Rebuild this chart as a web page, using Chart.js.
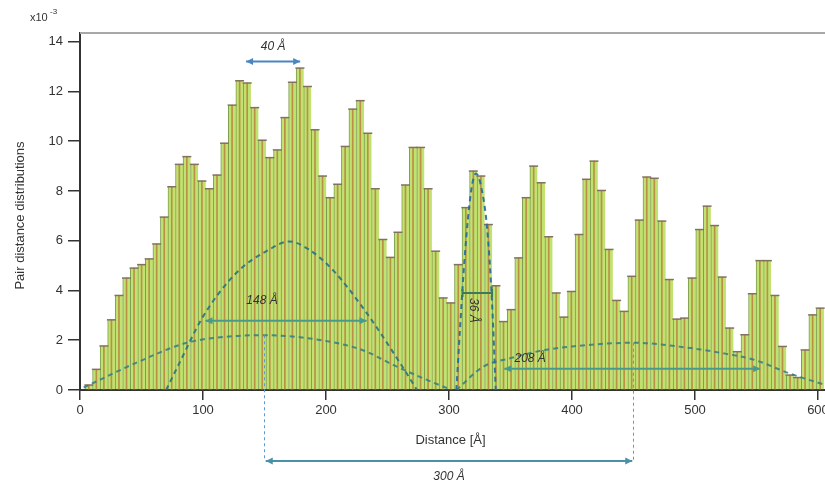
<!DOCTYPE html>
<html>
<head>
<meta charset="utf-8">
<script src="https://cdn.jsdelivr.net/npm/chart.js@4.4.1/dist/chart.umd.min.js"></script>
<style>
    html, body { margin: 0; padding: 0; background: #fff; }
    #wrap { width: 825px; height: 488px; }
</style>
</head>
<body>
<div id="wrap"><canvas id="pddChart" width="825" height="488"></canvas></div>
<script>
// Histograma de distancias (x10^-3), bins de ~6.13 Å
const binStart = 4.1;
const binWidth = 6.13;
const pddValues = [
    0.2, 0.83, 1.77, 2.82, 3.8, 4.5, 4.9, 5.04, 5.27, 5.87,
    6.95, 8.17, 9.07, 9.38, 9.07, 8.4, 8.09, 8.64, 9.92, 11.45,
    12.43, 12.34, 11.35, 10.04, 9.34, 9.65, 10.95, 12.37, 12.94, 12.2,
    10.46, 8.6, 7.73, 8.27, 9.79, 11.29, 11.63, 10.32, 8.09, 6.05,
    5.33, 6.34, 8.24, 9.75, 9.75, 8.09, 5.58, 3.7, 3.5, 5.04,
    7.33, 8.8, 8.6, 6.65, 4.19, 2.75, 3.23, 5.31, 7.73, 9.0,
    8.33, 6.16, 3.9, 2.93, 3.96, 6.25, 8.47, 9.2, 8.02, 5.65,
    3.6, 3.16, 4.57, 6.83, 8.56, 8.51, 6.79, 4.44, 2.85, 2.89,
    4.5, 6.45, 7.39, 6.61, 4.54, 2.49, 1.54, 2.22, 3.87, 5.2,
    5.2, 3.8, 1.75, 0.6, 0.5, 1.61, 3.02, 3.29
];

const xTicks = [0, 100, 200, 300, 400, 500, 600];
const yTicks = [0, 2, 4, 6, 8, 10, 12, 14];

// Curvas de ajuste
const domeX = [70, 81, 100, 127, 154, 170, 186, 206, 233, 260, 274];
const domeY = [0, 1.1, 2.95, 4.7, 5.65, 5.97, 5.65, 4.8, 3.1, 1.1, 0];
const broadLeftX = [3, 46, 87, 127, 150, 190, 230, 255, 280, 302];
const broadLeftY = [0.1, 1.1, 1.9, 2.17, 2.2, 2.05, 1.6, 1.0, 0.45, 0];
const narrowX = [306, 309, 313, 318, 322, 326, 331, 335, 338];
const narrowY = [0, 2.5, 5.5, 8.0, 8.7, 8.2, 6.5, 3.5, 0];
const broadRightX = [306, 328, 350, 377, 400, 450, 494, 520, 549, 576, 606];
const broadRightY = [0, 0.94, 1.28, 1.6, 1.75, 1.9, 1.7, 1.5, 1.2, 0.68, 0.2];

const FONT = "'Liberation Sans', 'DejaVu Sans', sans-serif";

function toPoints(xs, ys) {
    return xs.map((x, i) => ({ x: x, y: ys[i] }));
}

const barPoints = pddValues.map((v, i) => ({ x: binStart + (i + 0.5) * binWidth, y: v }));

function curveDataset(xs, ys, color) {
    return {
        type: 'line',
        data: toPoints(xs, ys),
        borderColor: color,
        borderWidth: 2,
        borderDash: [5, 4],
        pointRadius: 0,
        cubicInterpolationMode: 'monotone',
        fill: false,
        order: 1
    };
}

function drawArrow(ctx, x1, x2, yPix, color, heads) {
    ctx.save();
    ctx.strokeStyle = color;
    ctx.fillStyle = color;
    ctx.lineWidth = 2;
    ctx.setLineDash([]);
    ctx.beginPath();
    ctx.moveTo(x1, yPix);
    ctx.lineTo(x2, yPix);
    ctx.stroke();
    if (heads) {
        [[x1, 1], [x2, -1]].forEach(([hx, dir]) => {
            ctx.beginPath();
            ctx.moveTo(hx, yPix);
            ctx.lineTo(hx + dir * 7, yPix - 3.5);
            ctx.lineTo(hx + dir * 7, yPix + 3.5);
            ctx.closePath();
            ctx.fill();
        });
    }
    ctx.restore();
}

function drawText(ctx, text, x, y, opts) {
    ctx.save();
    ctx.font = (opts.style || '') + ' ' + (opts.size || 13) + 'px ' + FONT;
    ctx.fillStyle = opts.color || '#333';
    ctx.textAlign = opts.align || 'center';
    ctx.textBaseline = 'middle';
    if (opts.rotate) {
        ctx.translate(x, y);
        ctx.rotate(opts.rotate);
        ctx.fillText(text, 0, 0);
    } else {
        ctx.fillText(text, x, y);
    }
    ctx.restore();
}

const annotationPlugin = {
    id: 'pddAnnotations',
    afterDraw(chart) {
        const { ctx, chartArea } = chart;
        const x = chart.scales.x;
        const y = chart.scales.y;
        const bottom = chartArea.bottom;

        // marco superior
        ctx.save();
        ctx.strokeStyle = '#a8a8a8';
        ctx.lineWidth = 2;
        ctx.beginPath();
        ctx.moveTo(chartArea.left, chartArea.top);
        ctx.lineTo(chartArea.right, chartArea.top);
        ctx.stroke();
        ctx.restore();

        // 40 Å
        drawArrow(ctx, x.getPixelForValue(135), x.getPixelForValue(179), y.getPixelForValue(13.2), '#4a86c0', true);
        drawText(ctx, '40 Å', x.getPixelForValue(157), y.getPixelForValue(13.8), { style: 'italic', size: 12 });

        // 148 Å
        drawArrow(ctx, x.getPixelForValue(102), x.getPixelForValue(233), y.getPixelForValue(2.78), '#4a9a8c', true);
        drawText(ctx, '148 Å', x.getPixelForValue(148), y.getPixelForValue(3.6), { style: 'italic', size: 12 });

        // 36 Å
        ctx.save();
        ctx.strokeStyle = '#3c7a5a';
        ctx.lineWidth = 2;
        const y36 = y.getPixelForValue(3.9);
        const a36 = x.getPixelForValue(311), b36 = x.getPixelForValue(335);
        ctx.beginPath();
        ctx.moveTo(a36, y36); ctx.lineTo(b36, y36);
        ctx.moveTo(a36, y36 - 4); ctx.lineTo(a36, y36 + 4);
        ctx.moveTo(b36, y36 - 4); ctx.lineTo(b36, y36 + 4);
        ctx.stroke();
        ctx.restore();
        drawText(ctx, '36 Å', x.getPixelForValue(320), y.getPixelForValue(3.2), { style: 'italic', size: 12, rotate: Math.PI / 2 });

        // 208 Å
        drawArrow(ctx, x.getPixelForValue(345), x.getPixelForValue(553), y.getPixelForValue(0.85), '#4a9a8c', true);
        drawText(ctx, '208 Å', x.getPixelForValue(366), y.getPixelForValue(1.25), { style: 'italic', size: 12 });

        // 300 Å (debajo del eje)
        const y300 = bottom + 71;
        ctx.save();
        ctx.strokeStyle = '#5a9ad0';
        ctx.lineWidth = 1;
        ctx.setLineDash([3, 3]);
        ctx.beginPath();
        ctx.moveTo(x.getPixelForValue(150), y.getPixelForValue(2.2));
        ctx.lineTo(x.getPixelForValue(150), y300);
        ctx.moveTo(x.getPixelForValue(450), y.getPixelForValue(1.9));
        ctx.lineTo(x.getPixelForValue(450), y300);
        ctx.stroke();
        ctx.restore();
        drawArrow(ctx, x.getPixelForValue(151), x.getPixelForValue(449), y300, '#4a90a8', true);
        drawText(ctx, '300 Å', x.getPixelForValue(300), y300 + 16, { style: 'italic', size: 12 });

        // títulos de ejes
        drawText(ctx, 'Distance [Å]', (chartArea.left + chartArea.right) / 2 - 2, bottom + 50, { size: 13 });
        drawText(ctx, 'Pair distance distributions', 20, (chartArea.top + bottom) / 2 + 4, { size: 13, rotate: -Math.PI / 2 });
        drawText(ctx, 'x10', 30, 18, { size: 11, align: 'left' });
        drawText(ctx, '-3', 50, 12, { size: 8, align: 'left' });
    }
};

const chart = new Chart(document.getElementById('pddChart').getContext('2d'), {
    type: 'bar',
    data: {
        datasets: [
            curveDataset(domeX, domeY, 'rgba(40,115,130,0.9)'),
            curveDataset(broadLeftX, broadLeftY, 'rgba(50,125,130,0.85)'),
            curveDataset(narrowX, narrowY, 'rgba(35,105,160,0.9)'),
            curveDataset(broadRightX, broadRightY, 'rgba(50,125,130,0.85)'),
            {
                type: 'scatter',
                data: barPoints,
                pointStyle: 'line',
                pointRadius: 4.5,
                pointBorderWidth: 1.5,
                pointBorderColor: '#857060',
                order: 2
            },
            {
                data: barPoints,
                grouped: false,
                barThickness: 1,
                backgroundColor: 'rgba(185,115,55,0.75)',
                borderWidth: 0,
                order: 3
            },
            {
                data: barPoints,
                grouped: false,
                barPercentage: 1,
                categoryPercentage: 1,
                backgroundColor: 'rgb(192,226,112)',
                borderColor: 'rgba(105,140,50,0.85)',
                borderWidth: { left: 1, right: 0, top: 0, bottom: 0 },
                borderSkipped: false,
                order: 4
            }
        ]
    },
    options: {
        responsive: false,
        animation: false,
        devicePixelRatio: 1,
        layout: { autoPadding: false, padding: { top: 33, left: 0, right: 0, bottom: 0 } },
        plugins: {
            legend: { display: false },
            tooltip: { enabled: false },
            title: { display: false }
        },
        scales: {
            x: {
                type: 'linear',
                offset: false,
                min: 0,
                max: 605.7,
                afterBuildTicks: s => { s.ticks = xTicks.map(v => ({ value: v })); },
                afterFit: s => { s.height = 98; s.paddingLeft = 0; s.paddingRight = 0; },
                grid: { offset: false, drawOnChartArea: false, drawTicks: true, tickLength: 10, color: '#333', lineWidth: 1.5 },
                border: { display: true, color: '#333', width: 2 },
                ticks: { color: '#333', font: { family: FONT, size: 13 }, padding: 3, maxRotation: 0, autoSkip: false }
            },
            y: {
                min: 0,
                max: 14.35,
                afterBuildTicks: s => { s.ticks = yTicks.map(v => ({ value: v })); },
                afterFit: s => { s.width = 80; },
                grid: { drawOnChartArea: false, drawTicks: true, tickLength: 12, color: '#333', lineWidth: 1.5 },
                border: { display: true, color: '#333', width: 2 },
                ticks: { color: '#333', font: { family: FONT, size: 13 }, padding: 5 }
            }
        }
    },
    plugins: [annotationPlugin]
});
</script>
</body>
</html>
